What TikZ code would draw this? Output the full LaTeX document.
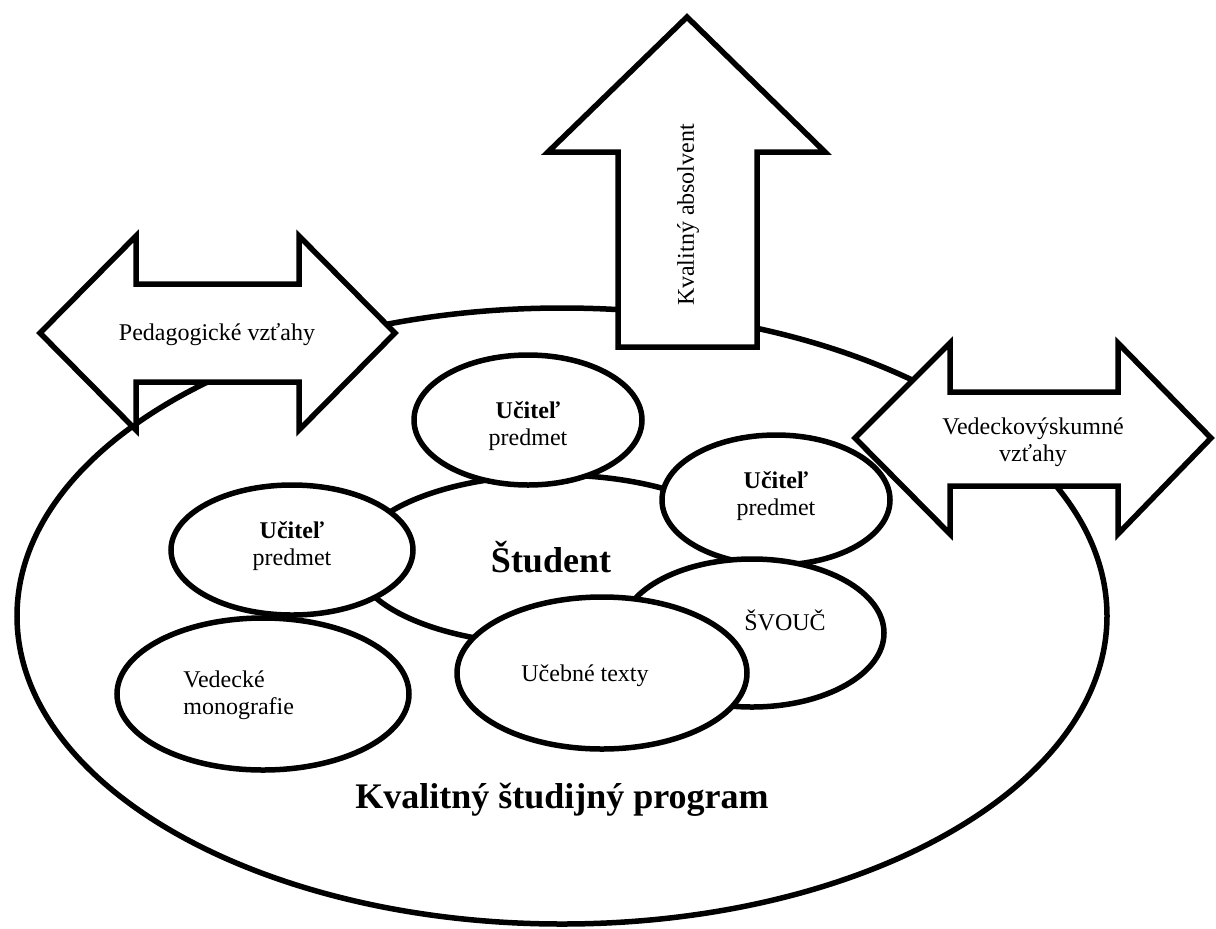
\documentclass[tikz,border=0pt]{standalone}
\usepackage{fontspec}
\setmainfont{Liberation Serif}
\usetikzlibrary{shapes.geometric}
\begin{document}
\begin{tikzpicture}[x=0.5pt,y=-0.5pt,
  outline/.style={line width=2.75pt, draw=black},
  blob/.style={outline, ellipse, fill=white, inner sep=0pt},
  txt/.style={font=\fontsize{12}{13.5}\selectfont, inner sep=0pt, align=center},
  bigtxt/.style={font=\fontsize{18}{21}\selectfont\bfseries, inner sep=0pt},
  arrowshape/.style={outline, fill=white, line join=miter, miter limit=10}
]
\useasboundingbox (0,0) rectangle (1216,928);

% study programme
\node[outline, ellipse, inner sep=0pt, minimum width=545pt, minimum height=308pt] (program) at (562,616) {};

% student in the middle and the surrounding elements
\node[blob, minimum width=200pt, minimum height=85pt] (student) at (555,560) {};
\node[blob, minimum width=114pt, minimum height=65pt] (ucitelA) at (528,420) {};
\node[blob, minimum width=121pt, minimum height=65pt] (ucitelB) at (292,550) {};
\node[blob, minimum width=114pt, minimum height=65pt] (ucitelC) at (776,500) {};
\node[blob, minimum width=132pt, minimum height=74pt] (svouc) at (752,633) {};
\node[blob, minimum width=145pt, minimum height=76pt] (texty) at (602,673) {};
\node[blob, minimum width=146pt, minimum height=76pt] (mono) at (263,694) {};

% pedagogical relations (double arrow)
\draw[arrowshape] (40,333) -- (136,236) -- (136,284) -- (299,284) -- (299,236)
  -- (395,333) -- (299,430) -- (299,382) -- (136,382) -- (136,430) -- cycle;

% graduate (upward arrow)
\draw[arrowshape] (687,17) -- (825,152) -- (757,152) -- (757,347) -- (618,347)
  -- (618,152) -- (548,152) -- cycle;

% research relations (double arrow)
\draw[arrowshape] (855,438) -- (950,343) -- (950,392) -- (1118,392) -- (1118,343)
  -- (1211,438) -- (1118,534) -- (1118,486) -- (950,486) -- (950,534) -- cycle;

% texts
\node[txt] (pedtxt) at (217,335) {Pedagogické vzťahy};
\node[txt, rotate=90] (abstxt) at (688,215) {Kvalitný absolvent};
\node[txt] (vedtxt) at (1033,442) {Vedeckovýskumné\\vzťahy};
\node[txt] (ucitelAtxt) at (528,426) {\textbf{Učiteľ}\\predmet};
\node[txt] (ucitelBtxt) at (292,546) {\textbf{Učiteľ}\\predmet};
\node[txt] (ucitelCtxt) at (776,496) {\textbf{Učiteľ}\\predmet};
\node[bigtxt] (studtxt) at (551,557) {Študent};
\node[txt] (svouctxt) at (785,620) {ŠVOUČ};
\node[txt] (textytxt) at (585,676) {Učebné texty};
\node[txt, align=left, anchor=west] (monotxt) at (183,695) {Vedecké\\monografie};
\node[bigtxt] (progtxt) at (562,800) {Kvalitný študijný program};
\end{tikzpicture}
\end{document}
